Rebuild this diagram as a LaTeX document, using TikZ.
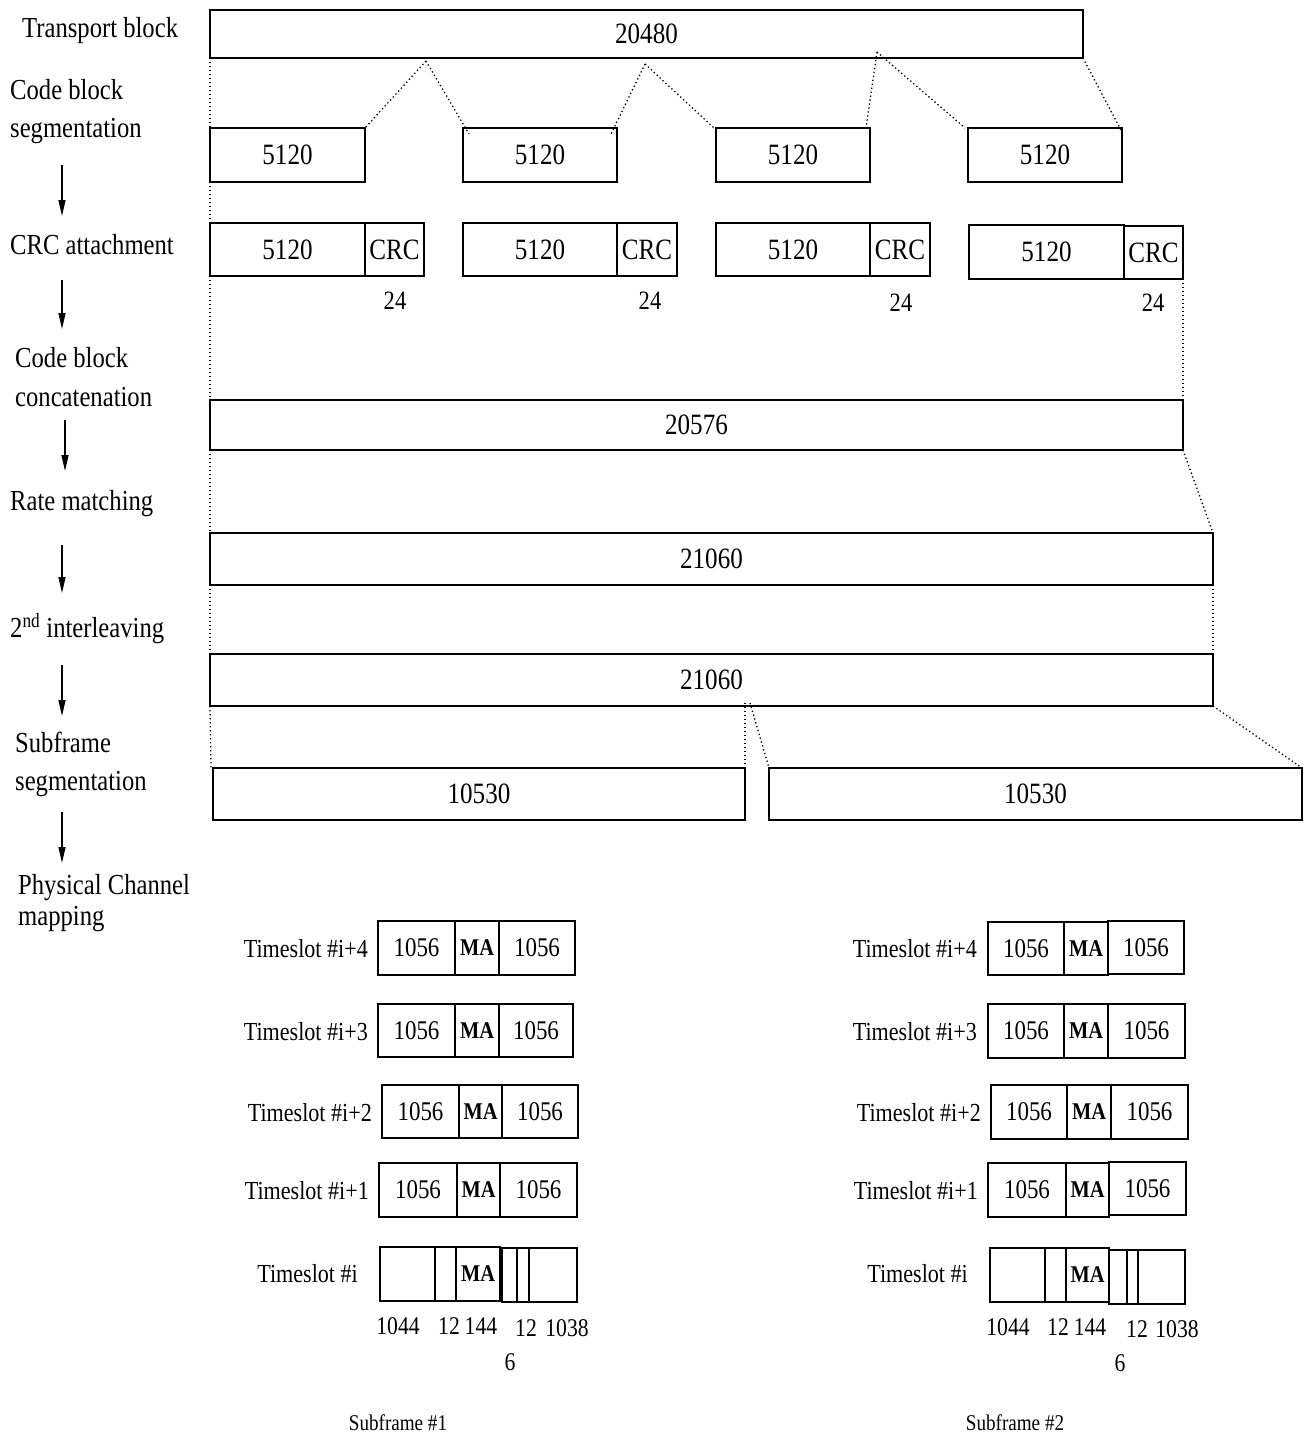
\documentclass[tikz,border=0pt]{standalone}
\usepackage{fontspec}
\setmainfont{Liberation Serif}[FakeStretch=0.85]
\usetikzlibrary{arrows.meta,calc}
\newcommand\bx[7][]{\node[box,#1,anchor=north west,minimum width={#5pt-#3pt},minimum height={#6pt-#4pt}] (#2) at (#3,#4) {#7};}
\begin{document}
\begin{tikzpicture}[x=1pt,y=-1pt,
  box/.style={draw, line width=1.8pt, inner sep=0pt, outer sep=0pt, font=\fontsize{29.5}{32}\selectfont},
  tsb/.style={font=\fontsize{27}{30}\selectfont},
  mab/.style={font=\fontsize{24}{27}\selectfont\bfseries},
  lab/.style={anchor=base west, inner sep=0pt, font=\fontsize{29}{32}\selectfont},
  tsl/.style={anchor=east, inner sep=0pt, font=\fontsize{26}{29}\selectfont},
  num/.style={inner sep=0pt, font=\fontsize{25.5}{28}\selectfont},
  sfl/.style={inner sep=0pt, font=\fontsize{22.5}{25}\selectfont},
  dotl/.style={line width=1.3pt, dash pattern=on 1.3pt off 2.7pt},
  flow/.style={line width=1.4pt, -{Triangle[length=16pt,width=7pt]}}]
\useasboundingbox (0,0) rectangle (1308,1438);

% ---- left labels ----
\node[lab] (l1) at (22,37) {Transport block};
\node[lab] (l2a) at (10,99) {Code block};
\node[lab] (l2b) at (10,137) {segmentation};
\node[lab] (l3) at (10,254) {CRC attachment};
\node[lab] (l4a) at (15,367) {Code block};
\node[lab] (l4b) at (15,406) {concatenation};
\node[lab] (l5) at (10,510) {Rate matching};
\node[lab] (l6) at (10,637) {2\textsuperscript{nd} interleaving};
\node[lab] (l7a) at (15,752) {Subframe};
\node[lab] (l7b) at (15,790) {segmentation};
\node[lab] (l8a) at (18,894) {Physical Channel};
\node[lab] (l8b) at (18,925) {mapping};

% ---- flow arrows ----
\coordinate (f1s) at (62,165); \coordinate (f1e) at (62,216);
\coordinate (f2s) at (62,280); \coordinate (f2e) at (62,329);
\coordinate (f3s) at (65,420); \coordinate (f3e) at (65,471);
\coordinate (f4s) at (62,545); \coordinate (f4e) at (62,593);
\coordinate (f5s) at (62,665); \coordinate (f5e) at (62,716);
\coordinate (f6s) at (62,812); \coordinate (f6e) at (62,863);
\foreach \i in {1,...,6} {\draw[flow] (f\i s) -- (f\i e);}

% ---- processing boxes ----
\bx{tb}{210}{10}{1083}{58}{20480}
\bx{cb1}{210}{128}{365}{182}{5120}
\bx{cb2}{463}{128}{617}{182}{5120}
\bx{cb3}{716}{128}{870}{182}{5120}
\bx{cb4}{968}{128}{1122}{182}{5120}

\bx{c1}{210}{223}{365}{276}{5120}
\bx{r1}{365}{223}{424}{276}{CRC}
\bx{c2}{463}{223}{617}{276}{5120}
\bx{r2}{617}{223}{677}{276}{CRC}
\bx{c3}{716}{223}{870}{276}{5120}
\bx{r3}{870}{223}{930}{276}{CRC}
\bx{c4}{969}{225}{1124}{279}{5120}
\bx{r4}{1124}{226}{1183}{279}{CRC}
\node[num, font=\fontsize{26.5}{29}\selectfont] (n1) at (395,301) {24};
\node[num, font=\fontsize{26.5}{29}\selectfont] (n2) at (650,301) {24};
\node[num, font=\fontsize{26.5}{29}\selectfont] (n3) at (901,303) {24};
\node[num, font=\fontsize{26.5}{29}\selectfont] (n4) at (1153,303) {24};

\bx{cat}{210}{400}{1183}{450}{20576}
\bx{rm}{210}{533}{1213}{585}{21060}
\bx{il}{210}{654}{1213}{706}{21060}
\bx{sfa}{213}{768}{745}{820}{10530}
\bx{sfb}{769}{768}{1302}{820}{10530}

% ---- dotted connectors ----
\coordinate (a1) at (426,61);
\coordinate (a2) at (645,64);
\coordinate (a3) at (877,52);
\draw[dotl] (a1) -- (cb1.north east);
\draw[dotl] (a1) -- ($(cb2.north west)+(6,6)$);
\draw[dotl] (a2) -- ($(cb2.north east)+(-6,6)$);
\draw[dotl] (a2) -- ($(cb3.north west)+(-2,0)$);
\draw[dotl] (a3) -- ($(cb3.north east)+(-4,0)$);
\draw[dotl] (a3) -- ($(cb4.north west)+(-3,0)$);
\draw[dotl] (tb.south east) -- ($(cb4.north east)+(0,4)$);

\draw[dotl] (tb.south west) -- (cb1.north west);
\draw[dotl] (cb1.south west) -- (c1.north west);
\draw[dotl] (c1.south west) -- (cat.north west);
\draw[dotl] (cat.south west) -- (rm.north west);
\draw[dotl] (rm.south west) -- (il.north west);
\draw[dotl] (il.south west) -- ($(sfa.north west)+(-2,0)$);

\draw[dotl] (r4.south east) -- (cat.north east);
\draw[dotl] (cat.south east) -- (rm.north east);
\draw[dotl] (rm.south east) -- (il.north east);
\draw[dotl] (il.south east) -- (sfb.north east);
\coordinate (m1) at (745,703);
\coordinate (m2) at (750,703);
\draw[dotl] (m1) -- (sfa.north east);
\draw[dotl] (m2) -- (sfb.north west);

% ---- Subframe #1 timeslots ----
\node[tsl] (t14) at (368,949) {Timeslot \#i+4};
\bx[tsb]{a14}{378}{921}{455}{975}{1056}
\bx[mab]{b14}{455}{921}{499}{975}{MA}
\bx[tsb]{c14}{499}{921}{575}{975}{1056}
\node[tsl] (t13) at (368,1032) {Timeslot \#i+3};
\bx[tsb]{a13}{378}{1004}{455}{1057}{1056}
\bx[mab]{b13}{455}{1004}{499}{1057}{MA}
\bx[tsb]{c13}{499}{1004}{573}{1057}{1056}
\node[tsl] (t12) at (372,1113) {Timeslot \#i+2};
\bx[tsb]{a12}{382}{1085}{459}{1138}{1056}
\bx[mab]{b12}{459}{1085}{502}{1138}{MA}
\bx[tsb]{c12}{502}{1085}{578}{1138}{1056}
\node[tsl] (t11) at (369,1191) {Timeslot \#i+1};
\bx[tsb]{a11}{379}{1163}{457}{1217}{1056}
\bx[mab]{b11}{457}{1163}{500}{1217}{MA}
\bx[tsb]{c11}{500}{1163}{577}{1217}{1056}
\node[tsl] (t10) at (358,1274) {Timeslot \#i};
\bx{s11}{380}{1247}{435}{1301}{}
\bx{s12}{435}{1247}{456}{1301}{}
\bx[mab]{s13}{456}{1247}{500}{1301}{MA}
\bx{s14}{502}{1248}{517}{1302}{}
\bx{s15}{517}{1248}{529}{1302}{}
\bx{s16}{529}{1248}{577}{1302}{}
\node[num] (u11) at (398,1326) {1044};
\node[num] (u12) at (449,1326) {12};
\node[num] (u13) at (481,1326) {144};
\node[num] (u14) at (526,1328) {12};
\node[num] (u15) at (567,1328) {1038};
\node[num] (u16) at (510,1362) {6};
\node[sfl] (sf1) at (398,1423) {Subframe \#1};

% ---- Subframe #2 timeslots ----
\node[tsl] (t24) at (977,949) {Timeslot \#i+4};
\bx[tsb]{a24}{988}{922}{1064}{975}{1056}
\bx[mab]{b24}{1064}{922}{1108}{975}{MA}
\bx[tsb]{c24}{1108}{921}{1184}{974}{1056}
\node[tsl] (t23) at (977,1032) {Timeslot \#i+3};
\bx[tsb]{a23}{988}{1004}{1064}{1058}{1056}
\bx[mab]{b23}{1064}{1004}{1108}{1058}{MA}
\bx[tsb]{c23}{1108}{1004}{1185}{1058}{1056}
\node[tsl] (t22) at (981,1113) {Timeslot \#i+2};
\bx[tsb]{a22}{991}{1085}{1067}{1139}{1056}
\bx[mab]{b22}{1067}{1085}{1111}{1139}{MA}
\bx[tsb]{c22}{1111}{1085}{1188}{1139}{1056}
\node[tsl] (t21) at (978,1191) {Timeslot \#i+1};
\bx[tsb]{a21}{988}{1163}{1066}{1217}{1056}
\bx[mab]{b21}{1066}{1163}{1109}{1217}{MA}
\bx[tsb]{c21}{1109}{1162}{1186}{1215}{1056}
\node[tsl] (t20) at (968,1274) {Timeslot \#i};
\bx{s21}{990}{1248}{1045}{1302}{}
\bx{s22}{1045}{1248}{1066}{1302}{}
\bx[mab]{s23}{1066}{1248}{1109}{1302}{MA}
\bx{s24}{1109}{1250}{1127}{1304}{}
\bx{s25}{1127}{1250}{1138}{1304}{}
\bx{s26}{1138}{1250}{1185}{1304}{}
\node[num] (u21) at (1008,1327) {1044};
\node[num] (u22) at (1058,1327) {12};
\node[num] (u23) at (1090,1327) {144};
\node[num] (u24) at (1137,1329) {12};
\node[num] (u25) at (1177,1329) {1038};
\node[num] (u26) at (1120,1363) {6};
\node[sfl] (sf2) at (1015,1423) {Subframe \#2};
\end{tikzpicture}
\end{document}
